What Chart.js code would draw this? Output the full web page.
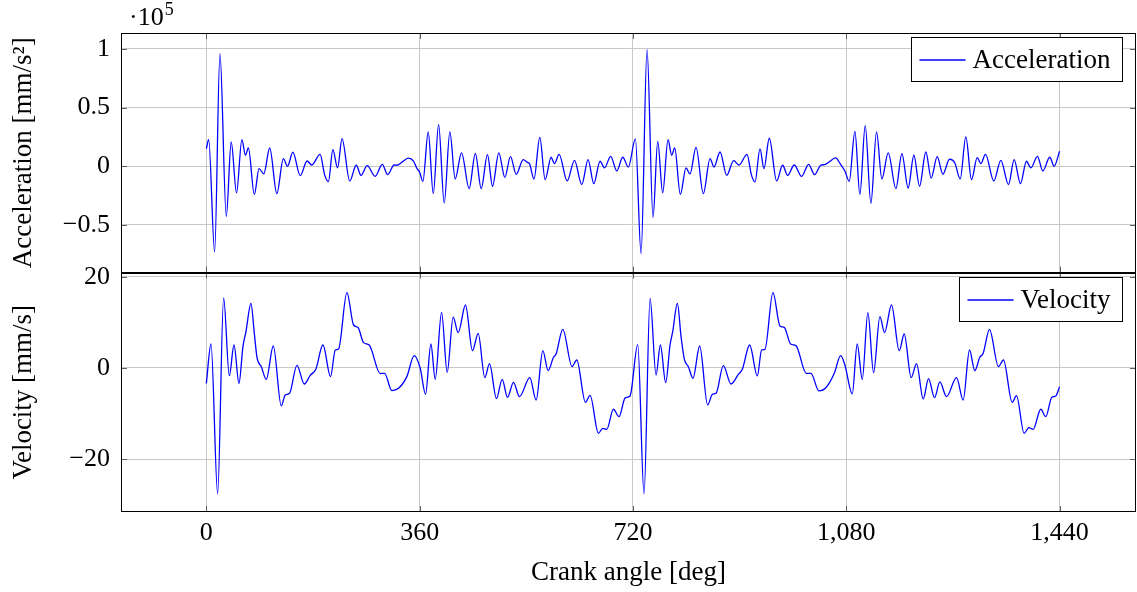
<!DOCTYPE html>
<html><head><meta charset="utf-8">
<script src="https://cdn.jsdelivr.net/npm/chart.js@4.4.1/dist/chart.umd.min.js"></script>
<style>html,body{margin:0;padding:0;background:#fff}canvas{display:block}</style>
</head><body>
<canvas id="c" width="1137" height="592"></canvas>
<script>
// Crank angle [deg] and acceleration [×10^5 mm/s²]
const accelAngle = [0,4,14,23,33.7,42,51,60,66,71,81,89,97,107,119,130,137,146,158.5,170,178,192,199.6,206,213.6,221.5,229,242,253,261,271.5,285,297,306,317,321.6,330,341,349.7,355,360,365.5,374.5,383,392,401.5,411,420,430.7,443.6,454,463.9,474.5,483,493.6,503.8,513.3,523,534.7,542,545.4,553,562.8,571.8,581.9,587.5,595.4,609,621.3,633.6,644.3,653.9,664.5,671.9,682.5,692.7,702.8,712.3,724.1,733.7,743.8,753.9,761.8,770.2,779.2,785.4,790.5,800,809.6,816.3,826.5,838.8,850.1,856.8,867,878.2,890,899,912.5,919.8,926,934.4,941.1,950.1,962.5,972.6,981,992.3,1004.7,1016.5,1026.6,1037.3,1044,1050.8,1062,1070,1077.7,1085,1094.6,1103,1112,1121.6,1131.1,1140.1,1150.8,1163.8,1173.9,1184.5,1194.1,1203.7,1214.3,1223.3,1233.5,1243,1254.3,1263.3,1272.3,1281.8,1291.4,1301,1307.1,1315,1329,1340.9,1353.8,1363.3,1374,1384.1,1391.5,1402.7,1411.7,1423.5,1430.8,1440];
const accelValue = [0.15,0.227,-0.73,0.96,-0.426,0.207,-0.227,0.227,0.094,0.156,-0.24,-0.02,-0.065,0.156,-0.233,0.065,0,0.12,-0.08,0.045,0.011,0.102,-0.071,-0.13,0.142,-0.014,0.236,-0.125,0.009,-0.077,0.006,-0.085,0.017,-0.071,0.011,0.009,0.034,0.07,0.045,-0.014,-0.05,-0.128,0.293,-0.233,0.355,-0.313,0.293,-0.108,0.114,-0.19,0.111,-0.19,0.1,-0.17,0.114,-0.094,0.082,-0.068,0.057,0.034,0.023,-0.108,0.247,-0.114,0.077,0.023,0.102,-0.125,0.051,-0.156,0.057,-0.148,0.043,-0.014,0.085,-0.04,0.077,-0.006,0.233,-0.744,0.994,-0.435,0.213,-0.227,0.227,0.094,0.156,-0.24,-0.014,-0.065,0.162,-0.233,0.065,-0.006,0.122,-0.077,0.048,0.011,0.102,-0.071,-0.134,0.148,-0.02,0.239,-0.125,0.009,-0.077,0.011,-0.085,0.017,-0.071,0.011,0.014,0.037,0.071,0.02,-0.04,-0.128,0.298,-0.239,0.347,-0.315,0.293,-0.108,0.114,-0.19,0.108,-0.185,0.094,-0.17,0.122,-0.1,0.082,-0.068,0.06,0.028,-0.108,0.25,-0.114,0.074,0.023,0.102,-0.125,0.051,-0.156,0.057,-0.148,0.043,-0.014,0.085,-0.04,0.077,0,0.128];
// Crank angle [deg] and velocity [mm/s]
const velocityAngle = [0,7.9,19.1,29.2,38.8,46.7,55.1,61.8,66.9,75.3,81,85.5,92.8,101.2,113,126.5,133.2,140.5,152.9,165.3,175.4,185,196.8,209.7,217.6,223.2,237.3,248.5,255.8,265.4,274.9,293.5,300.8,313.1,324.4,338.4,350.8,361,370,379,386.3,397,406.5,416.6,425,437.4,449.2,458.8,470,477.9,489.7,499.3,508.3,518.4,528.5,546,556.6,567.9,576.9,585.9,590.3,601.6,617.3,625.2,639.8,647.7,661.7,669,675.8,687,696.6,706.7,715.1,728.1,738.7,748.9,759,766.3,775.3,782.6,787.1,795,801.2,806.8,813.5,821.4,832.6,846.1,854,860.2,872.6,885.5,897.9,904.6,917,929.9,937.2,942.8,956.3,968.1,975.4,986.1,995.1,1012.5,1020.4,1033.9,1046.3,1059.8,1070.5,1077.7,1090.1,1098.5,1107,1116.5,1126.1,1136.8,1144.6,1156.4,1169.4,1177.8,1189.6,1198.6,1209.9,1218.8,1229,1238,1249.2,1266.1,1277.3,1288,1297,1305.4,1311.1,1321.7,1336.9,1345.3,1360,1367.3,1380.2,1388.1,1395.4,1408.3,1416.7,1426.9,1433.6,1440];
const velocityValue = [-3.4,5.26,-27.6,15.4,-1.68,5.04,-3.36,4.68,7.97,14.18,7.6,2.34,0.29,-2.49,4.82,-8.33,-5.92,-5.56,0.58,-3.51,-1.61,-0.22,5.04,-1.9,3.95,4.17,16.52,9.43,8.92,5.56,5.04,-1.24,-1.17,-4.97,-4.46,-1.9,2.7,-0.07,-5.77,5.26,-2.49,12.2,-0.95,11.18,7.75,13.82,3.8,7.6,-2.12,0.95,-6.73,-2.49,-6.43,-3.14,-6.29,-2.12,-7.02,3.8,-0.58,2.34,3.07,8.48,0.29,1.75,-7.53,-5.99,-14.33,-13.23,-13.45,-9.06,-10.67,-6.6,-6.14,5.12,-27.6,15.28,-1.54,5.04,-3.22,5.04,7.97,14.18,6.87,1.9,0.29,-2.27,4.82,-8.11,-5.77,-5.56,0.51,-3.51,-1.39,-0.29,5.04,-1.75,3.95,4.09,16.52,9.21,8.92,5.26,4.9,-1.17,-1.17,-5.04,-4.24,-1.17,2.7,0.66,-5.7,5.26,-2.49,12.13,-1.02,11.26,7.75,13.82,3.8,7.46,-2.12,0.95,-6.8,-2.34,-6.5,-3.07,-6.29,-2.12,-7.02,3.95,-0.58,2.34,3.22,8.48,0.29,1.75,-7.53,-6.07,-14.33,-13.08,-13.45,-9.06,-10.67,-6.43,-6.14,-4.09];
const angleTicks = [0,360,720,1080,1440];
const accelTicks = [-0.5,0,0.5,1];
const velocityTicks = [-20,0,20];
const accelLabel = 'Acceleration';
const velocityLabel = 'Velocity';

const FONT = "'Liberation Serif', 'Times New Roman', serif";
const GRID = '#c8c8c8';
const BLUE = '#0000ff';
Chart.defaults.font.family = FONT;
Chart.defaults.color = '#000';

const fmtNum = v => (v < 0 ? '\u2212' : '') + Math.abs(v).toString();

const overlay = {
  id: 'overlay',
  afterDraw(chart) {
    const ctx = chart.ctx, ca = chart.chartArea, xs = chart.scales.x;
    const panels = [chart.scales.yA, chart.scales.yV];
    ctx.save();
    // inner tick marks
    ctx.strokeStyle = '#606060'; ctx.lineWidth = 1;
    ctx.beginPath();
    panels.forEach(s => {
      s.ticks.forEach(t => {
        const y = Math.round(s.getPixelForValue(t.value)) + 0.5;
        ctx.moveTo(ca.left, y); ctx.lineTo(ca.left + 6, y);
        ctx.moveTo(ca.right, y); ctx.lineTo(ca.right - 6, y);
      });
      xs.ticks.forEach(t => {
        const x = Math.round(xs.getPixelForValue(t.value)) + 0.5;
        ctx.moveTo(x, s.top); ctx.lineTo(x, s.top + 6);
        ctx.moveTo(x, s.bottom); ctx.lineTo(x, s.bottom - 6);
      });
    });
    ctx.stroke();
    // panel frames
    ctx.strokeStyle = '#000';
    panels.forEach(s => {
      const t = Math.round(s.top), b = Math.round(s.bottom);
      ctx.strokeRect(Math.round(ca.left) + 0.5, t + 0.5, Math.round(ca.right - ca.left) - 1, b - t - 1);
    });
    // exponent label
    ctx.fillStyle = '#000';
    ctx.textBaseline = 'alphabetic';
    ctx.textAlign = 'left';
    ctx.font = '26px ' + FONT;
    ctx.fillText('\u00b710', 129, 25);
    const w = ctx.measureText('\u00b710').width;
    ctx.font = '18px ' + FONT;
    ctx.fillText('5', 129 + w + 1, 15);
    // legends
    const legends = [[chart.scales.yA, accelLabel], [chart.scales.yV, velocityLabel]];
    ctx.font = '27px ' + FONT;
    legends.forEach(([s, label]) => {
      const tw = ctx.measureText(label).width;
      const right = Math.round(ca.right) - 13.5;
      const top = Math.round(s.top) + 4.5;
      const width = 8 + 46 + 7 + tw + 13;
      const left = Math.round(right - width) + 0.5;
      ctx.fillStyle = '#fff';
      ctx.fillRect(left, top, right - left, 44);
      ctx.strokeStyle = '#000'; ctx.lineWidth = 1;
      ctx.strokeRect(left, top, right - left, 44);
      ctx.strokeStyle = BLUE; ctx.lineWidth = 1.3;
      ctx.beginPath();
      ctx.moveTo(left + 8, top + 22.5); ctx.lineTo(left + 54, top + 22.5);
      ctx.stroke();
      ctx.fillStyle = '#000';
      ctx.fillText(label, left + 61, top + 30);
    });
    ctx.restore();
  }
};

const yCommon = {
  type: 'linear',
  position: 'left',
  stack: 'panels',
  stackWeight: 1,
  grid: { color: GRID, lineWidth: 1, drawTicks: false },
  border: { display: false },
  afterFit: s => { s.width = 121; }
};

new Chart(document.getElementById('c'), {
  type: 'line',
  data: {
    datasets: [
      {
        label: accelLabel,
        data: accelAngle.map((a, i) => ({ x: a, y: accelValue[i] })),
        yAxisID: 'yA',
        borderColor: BLUE, borderWidth: 1.3, pointRadius: 0,
        cubicInterpolationMode: 'monotone', fill: false
      },
      {
        label: velocityLabel,
        data: velocityAngle.map((a, i) => ({ x: a, y: velocityValue[i] })),
        yAxisID: 'yV',
        borderColor: BLUE, borderWidth: 1.3, pointRadius: 0,
        cubicInterpolationMode: 'monotone', fill: false
      }
    ]
  },
  options: {
    responsive: false,
    animation: false,
    devicePixelRatio: 1,
    layout: { padding: { top: 33, right: 1, left: 0, bottom: 0 } },
    plugins: { legend: { display: false }, tooltip: { enabled: false } },
    scales: {
      x: {
        type: 'linear', position: 'bottom', min: -144, max: 1569,
        afterBuildTicks: s => { s.ticks = angleTicks.map(v => ({ value: v })); },
        ticks: { font: { size: 26 }, padding: 6, maxRotation: 0, callback: v => v.toLocaleString('en-US') },
        grid: { color: GRID, lineWidth: 1, drawTicks: false },
        border: { display: false },
        title: { display: true, text: 'Crank angle [deg]', font: { size: 27 }, padding: { top: 0, bottom: 3 } },
        afterFit: s => { s.height = 80; }
      },
      yA: Object.assign({}, yCommon, {
        weight: 2,
        min: -0.905, max: 1.136,
        afterBuildTicks: s => { s.ticks = accelTicks.map(v => ({ value: v })); },
        ticks: { font: { size: 26 }, padding: 11, callback: fmtNum },
        title: { display: true, text: 'Acceleration [mm/s\u00b2]', font: { size: 27 }, padding: { top: 8, bottom: 0 } }
      }),
      yV: Object.assign({}, yCommon, {
        weight: 1,
        min: -31.6, max: 20.95,
        afterBuildTicks: s => { s.ticks = velocityTicks.map(v => ({ value: v })); },
        ticks: { font: { size: 26 }, padding: 11, callback: fmtNum },
        title: { display: true, text: 'Velocity [mm/s]', font: { size: 27 }, padding: { top: 8, bottom: 0 } }
      })
    }
  },
  plugins: [overlay]
});
</script>
</body></html>
